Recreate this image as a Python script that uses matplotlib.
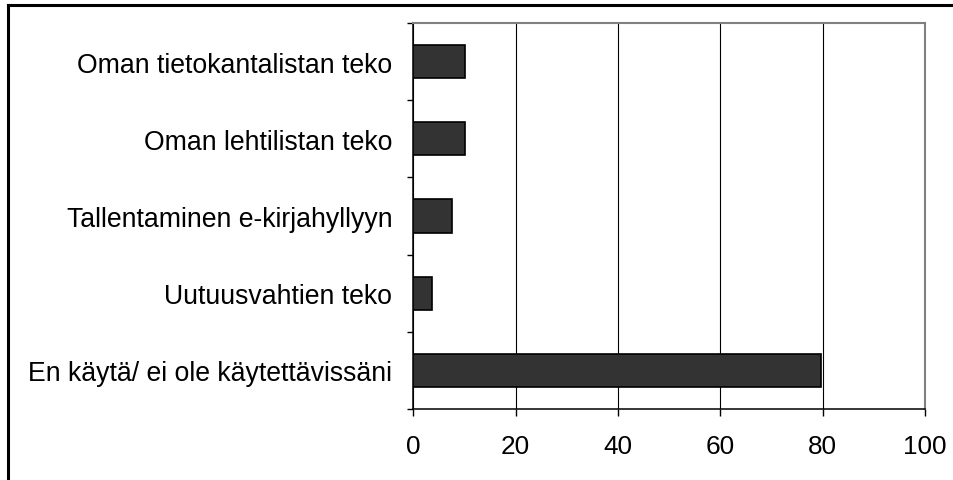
import matplotlib.pyplot as plt
from matplotlib.lines import Line2D
import numpy as np

plt.rcParams['font.family'] = ['Liberation Sans', 'DejaVu Sans']

categories = ['En käytä/ ei ole käytettävissäni', 'Uutuusvahtien teko',
              'Tallentaminen e-kirjahyllyyn', 'Oman lehtilistan teko',
              'Oman tietokantalistan teko']
values = [79.6, 3.6, 7.5, 10.2, 10.2]
xticks = [0, 20, 40, 60, 80, 100]

fig = plt.figure(figsize=(9.54, 4.81), dpi=100)
ax = fig.add_axes([0.4332, 0.1476, 0.9696 - 0.4332, 0.9501 - 0.1476])

y = np.arange(len(categories))
ax.barh(y, values, height=0.43, color='#333333', edgecolor='black', linewidth=1.2, zorder=3)

ax.set_xlim(0, 100)
ax.set_ylim(-0.5, len(categories) - 0.5)
ax.set_xticks(xticks)
ax.set_xticklabels([str(t) for t in xticks])
ax.set_yticks(y)
ax.set_yticklabels(categories)
ax.set_yticks(np.arange(-0.5, len(categories)), minor=True)

ax.tick_params(axis='y', which='major', length=0, pad=15, labelsize=19.2)
ax.tick_params(axis='y', which='minor', length=4.3, width=1, direction='out')
ax.tick_params(axis='x', length=5, width=1, direction='out', pad=13, labelsize=18.8)

ax.grid(axis='x', color='black', linewidth=0.8, zorder=0)
for s in ['left', 'bottom']:
    ax.spines[s].set_color('black')
    ax.spines[s].set_linewidth(1.1)
for s in ['top', 'right']:
    ax.spines[s].set_color('#808080')
    ax.spines[s].set_linewidth(1.5)

# outer frame (top and left only)
fig.add_artist(Line2D([8 / 954, 1], [1 - 6 / 481, 1 - 6 / 481], color='black', linewidth=2.2,
                      transform=fig.transFigure))
fig.add_artist(Line2D([8 / 954, 8 / 954], [0, 1 - 6 / 481], color='black', linewidth=2.2,
                      transform=fig.transFigure))

fig.savefig('out.png', dpi=100)
